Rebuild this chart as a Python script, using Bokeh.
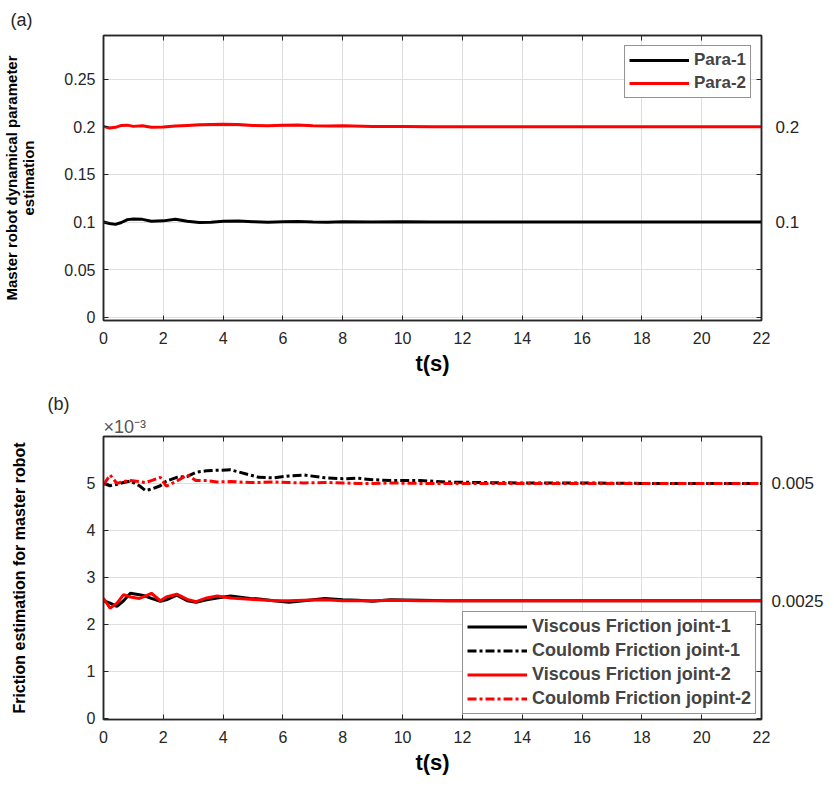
from bokeh.plotting import figure
from bokeh.layouts import column
from bokeh.models import (Range1d, LinearAxis, FixedTicker, Legend, LegendItem,
                          Title, CustomJSTickFormatter)
from bokeh.embed import file_html
from bokeh.resources import INLINE

# ---------------- data: panel (a) ----------------
t_para = [0, 0.2, 0.4, 0.6, 0.8, 1.0, 1.3, 1.6, 2.0, 2.4, 2.8, 3.2, 3.6, 4.0, 4.5,
          5.0, 5.5, 6.0, 6.5, 7.0, 7.5, 8.0, 9.0, 10.0, 11, 12, 13, 14, 15, 16,
          17, 18, 19, 20, 21, 22]
para1 = [0.1, 0.0985, 0.0975, 0.0995, 0.1025, 0.1032, 0.1028, 0.1008, 0.1012,
         0.103, 0.1008, 0.0995, 0.0998, 0.1008, 0.101, 0.1003, 0.0998, 0.1002,
         0.1005, 0.1, 0.0998, 0.1002, 0.1, 0.1003, 0.1, 0.1001, 0.1, 0.0999,
         0.1, 0.1001, 0.1, 0.1, 0.1001, 0.1, 0.1, 0.1]
para2 = [0.2005, 0.1987, 0.1995, 0.2015, 0.2018, 0.2005, 0.2012, 0.1995, 0.1998,
         0.2008, 0.2015, 0.2022, 0.2025, 0.2028, 0.2025, 0.2015, 0.2012, 0.2018,
         0.202, 0.2012, 0.2008, 0.2012, 0.2005, 0.2003, 0.2, 0.2002, 0.2, 0.2001,
         0.2, 0.2, 0.2001, 0.2, 0.2, 0.2, 0.2, 0.2]

# ---------------- data: panel (b), values in units of 1e-3 ----------------
t_fric = [0, 0.22, 0.45, 0.67, 0.9, 1.2, 1.4, 1.6, 1.9, 2.1, 2.45, 2.8, 3.1, 3.45,
          3.8, 4.25, 4.9, 5.2, 5.7, 6.2, 6.7, 7.4, 8.0, 8.5, 9.0, 9.6, 10.6, 11.5,
          12.5, 14, 16, 18, 20, 22]
viscous_j1 = [2.5, 2.45, 2.38, 2.5, 2.66, 2.63, 2.6, 2.55, 2.49, 2.52, 2.62, 2.5,
              2.47, 2.52, 2.56, 2.6, 2.55, 2.54, 2.5, 2.47, 2.5, 2.55, 2.52, 2.51,
              2.49, 2.52, 2.51, 2.5, 2.5, 2.5, 2.5, 2.5, 2.5, 2.5]
viscous_j2 = [2.55, 2.34, 2.45, 2.63, 2.58, 2.55, 2.6, 2.66, 2.5, 2.58, 2.64, 2.53,
              2.48, 2.56, 2.6, 2.56, 2.53, 2.52, 2.5, 2.5, 2.51, 2.52, 2.5, 2.5,
              2.5, 2.51, 2.5, 2.5, 2.5, 2.5, 2.5, 2.5, 2.5, 2.5]
coulomb_j1 = [5.0, 4.95, 4.98, 5.02, 5.05, 4.95, 4.85, 4.88, 4.95, 5.05, 5.13,
              5.15, 5.24, 5.27, 5.28, 5.29, 5.18, 5.13, 5.12, 5.16, 5.18, 5.12,
              5.1, 5.11, 5.08, 5.06, 5.06, 5.03, 5.02, 5.01, 5.01, 5.0, 5.0, 5.0]
coulomb_j2 = [4.97, 5.18, 5.0, 5.04, 5.06, 5.04, 5.02, 5.06, 5.13, 4.94, 5.05, 5.18,
              5.06, 5.06, 5.03, 5.04, 5.02, 5.02, 5.03, 5.02, 5.01, 5.02, 5.01,
              5.0, 5.0, 5.01, 5.0, 5.0, 5.0, 5.0, 5.0, 5.0, 5.0, 5.0]

x_ticks = list(range(0, 23, 2))
ya_ticks = [0, 0.05, 0.1, 0.15, 0.2, 0.25]
yb_ticks = [0, 1, 2, 3, 4, 5]

FONT = "Liberation Sans"
DARK = "#262626"
RED = "#ff0000"
BLACK = "#000000"


def style_axis(ax, size="16px"):
    ax.axis_line_color = DARK
    ax.axis_line_width = 1.5
    ax.major_tick_in = 5
    ax.major_tick_out = 0
    ax.minor_tick_in = 0
    ax.minor_tick_out = 0
    ax.major_tick_line_color = DARK
    ax.minor_tick_line_color = DARK
    ax.major_label_text_font = FONT
    ax.major_label_text_font_size = size
    ax.major_label_text_color = DARK


def base_fig(height, yr, top, bottom):
    p = figure(width=830, height=height, output_backend="svg", toolbar_location=None,
               title=None, x_range=Range1d(0, 22), y_range=yr,
               min_border_left=103, min_border_right=69,
               min_border_top=top, min_border_bottom=bottom)
    p.outline_line_color = DARK
    p.outline_line_width = 1.5
    p.xaxis.ticker = FixedTicker(ticks=x_ticks)
    p.xgrid.ticker = FixedTicker(ticks=x_ticks)
    for g in (p.xgrid, p.ygrid):
        g.grid_line_color = "#dedede"
        g.grid_line_width = 1
    style_axis(p.xaxis[0])
    style_axis(p.yaxis[0])
    p.xaxis.major_label_standoff = 11
    p.yaxis.major_label_standoff = 8
    p.xaxis.axis_label = "t(s)"
    p.xaxis.axis_label_text_font = FONT
    p.xaxis.axis_label_text_font_style = "bold"
    p.xaxis.axis_label_text_font_size = "22px"
    p.xaxis.axis_label_text_color = BLACK
    p.xaxis.axis_label_standoff = 4
    p.yaxis.axis_label_text_font = FONT
    p.yaxis.axis_label_text_font_style = "bold"
    p.yaxis.axis_label_text_color = BLACK
    # mirrored tick marks on the top edge (no labels: ticks given as minor ticks)
    top_ax = LinearAxis(ticker=FixedTicker(ticks=[], minor_ticks=x_ticks),
                        major_label_standoff=0)
    style_axis(top_ax)
    top_ax.minor_tick_in = 5
    p.add_layout(top_ax, "above")
    return p


def panel_title(text, size, standoff, offset, color=DARK):
    return Title(text=text, align="left", offset=offset, standoff=standoff,
                 text_font=FONT, text_font_size=size, text_font_style="normal",
                 text_color=color)


# ---------------- panel (a) ----------------
pa = base_fig(390, Range1d(-0.0035, 0.296), 35, 70)
pa.yaxis.ticker = FixedTicker(ticks=ya_ticks)
pa.ygrid.ticker = FixedTicker(ticks=ya_ticks)
pa.yaxis.formatter = CustomJSTickFormatter(code="return String(Math.round(tick*100)/100);")
pa.yaxis.axis_label = "Master robot dynamical parameter\nestimation"
pa.yaxis.axis_label_text_font_size = "15px"
pa.yaxis.axis_label_text_line_height = 1.0
pa.yaxis.axis_label_standoff = 24
ra = LinearAxis(ticker=FixedTicker(ticks=[0.1, 0.2], minor_ticks=[0, 0.05, 0.15, 0.25]))
style_axis(ra, "17px")
ra.minor_tick_in = 5
ra.major_tick_in = 0
ra.major_label_standoff = 14
pa.add_layout(ra, "right")

r1 = pa.line(t_para, para1, line_color=BLACK, line_width=3)
r2 = pa.line(t_para, para2, line_color=RED, line_width=3)
leg_a = Legend(items=[LegendItem(label="Para-1", renderers=[r1]),
                      LegendItem(label="Para-2", renderers=[r2])],
               location="top_right", glyph_width=60, glyph_height=20, label_height=20,
               spacing=3, padding=4, margin=10, label_standoff=5,
               label_text_font=FONT, label_text_font_style="bold",
               label_text_font_size="17px", border_line_color=DARK, border_line_width=1.5)
pa.add_layout(leg_a)
pa.add_layout(panel_title("(a)", "18px", 12, -93), "above")

# ---------------- panel (b) ----------------
pb = base_fig(391, Range1d(-0.03, 6.0), 44, 62)
pb.yaxis.ticker = FixedTicker(ticks=yb_ticks)
pb.ygrid.ticker = FixedTicker(ticks=yb_ticks)
pb.yaxis.axis_label = "Friction estimation for master robot"
pb.yaxis.axis_label_text_font_size = "16px"
pb.yaxis.axis_label_standoff = 56
rb = LinearAxis(ticker=FixedTicker(ticks=[2.5, 5], minor_ticks=[0, 1, 2, 3, 4]),
                major_label_overrides={2.5: "0.0025", 5: "0.005"})
style_axis(rb, "17px")
rb.minor_tick_in = 5
rb.major_tick_in = 0
rb.major_label_standoff = 10
pb.add_layout(rb, "right")

b1 = pb.line(t_fric, viscous_j1, line_color=BLACK, line_width=3)
b2 = pb.line(t_fric, coulomb_j1, line_color=BLACK, line_width=3, line_dash="9 3 3 3")
b3 = pb.line(t_fric, viscous_j2, line_color=RED, line_width=3)
b4 = pb.line(t_fric, coulomb_j2, line_color=RED, line_width=3, line_dash="9 3 3 3")
leg_b = Legend(items=[LegendItem(label="Viscous Friction joint-1", renderers=[b1]),
                      LegendItem(label="Coulomb Friction joint-1", renderers=[b2]),
                      LegendItem(label="Viscous Friction joint-2", renderers=[b3]),
                      LegendItem(label="Coulomb Friction jopint-2", renderers=[b4])],
               location="bottom_right", glyph_width=60, glyph_height=21, label_height=21,
               spacing=3, padding=4, margin=5, label_standoff=5,
               label_text_font=FONT, label_text_font_style="bold",
               label_text_font_size="18px", border_line_color=DARK, border_line_width=1.5)
pb.add_layout(leg_b)
pb.add_layout(panel_title("\u00d710\u207b\u00b3", "18px", 0, 0, "#555555"), "above")
pb.add_layout(panel_title("(b)", "18px", 2, -56), "above")

layout = column(pa, pb)
open("out.html", "w").write(file_html(layout, INLINE))
